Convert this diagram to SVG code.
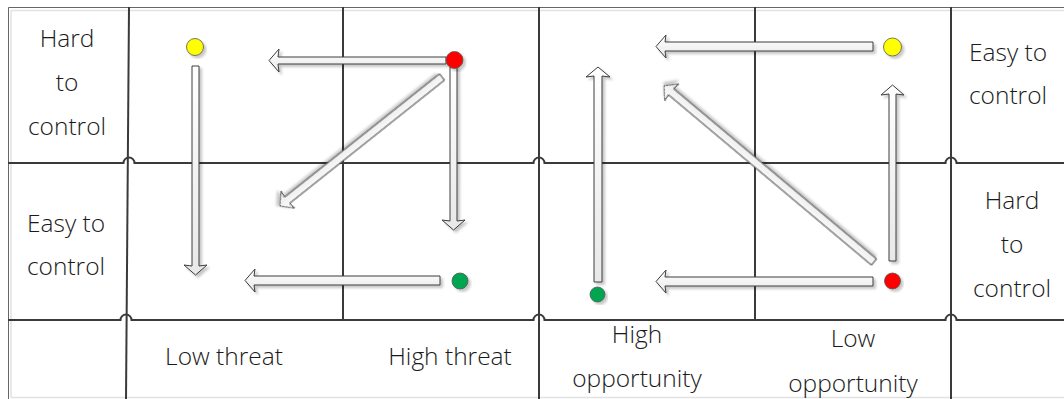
<svg xmlns="http://www.w3.org/2000/svg" width="1064" height="399" viewBox="0 0 1064 399">
  <defs>
    <filter id="shadow" x="-20%" y="-20%" width="140%" height="140%">
      <feDropShadow dx="2.5" dy="2.5" stdDeviation="1.2" flood-color="#000" flood-opacity="0.22"/>
    </filter>
    <linearGradient id="arrowFill" x1="0" y1="0" x2="0" y2="1">
      <stop offset="0" stop-color="#ffffff"/>
      <stop offset="1" stop-color="#e8e8e8"/>
    </linearGradient>
  </defs>
  <style>
    .grid { stroke: #3a3a3a; stroke-width: 2; fill: none; }
    .frame { stroke: #666; stroke-width: 1; fill: none; }
    .frame-in { stroke: #e2e2e2; stroke-width: 1.5; fill: none; }
    .arrow { fill: url(#arrowFill); stroke: #3c3c3c; stroke-width: 1; stroke-linejoin: miter; filter: url(#shadow); }
    .dot { stroke: #555; stroke-width: 0.8; filter: url(#shadow); }
    .label { font-family: "Open Sans", "Liberation Sans", sans-serif; font-size: 24.5px; font-weight: 300; fill: #1a1a1a; text-anchor: middle; }
  </style>

  <rect width="1064" height="399" fill="#ffffff"/>

  <!-- outer frame -->
  <g id="frame">
    <path class="frame-in" d="M11,10.5 H1064 M11,10.5 V397.5 M11,397.5 H1064"/>
    <path class="frame" d="M8.5,7.5 H1064 M8.5,7.5 V399"/>
  </g>

  <!-- grid lines with jump-overs at crossings -->
  <g id="grid">
    <path class="grid" d="M8,163 H123.5 A5.5,5.5 0 0 1 134.5,163 H533.5 A5.5,5.5 0 0 1 544.5,163 H945.5 A5.5,5.5 0 0 1 956.5,163 H1064"/>
    <path class="grid" d="M8,320 H120.5 A5.5,5.5 0 0 1 131.5,320 H533.5 A5.5,5.5 0 0 1 544.5,320 H945.5 A5.5,5.5 0 0 1 956.5,320 H1064"/>
    <path class="grid" d="M129,7 L126,399"/>
    <path class="grid" d="M343,7 V320"/>
    <path class="grid" d="M539,7 V399"/>
    <path class="grid" d="M755,7 V320"/>
    <path class="grid" d="M951,7 V399"/>
  </g>

  <!-- block arrows -->
  <g id="connectors">
    <!-- yellow (top left) down -->
    <polygon class="arrow" points="192,66 199,66 199,266 207,265 195.5,275 184,265 192,266"/>
    <!-- red (top) left -->
    <polygon class="arrow" points="446,57 446,64 278,64 279,72 269,60.5 279,49 278,57"/>
    <!-- red (top) diagonal down-left -->
    <polygon class="arrow" transform="translate(442,77) rotate(141.5)" points="0,-4 198,-4 197,-11 207,0 197,11 198,4 0,4"/>
    <!-- red (top) down -->
    <polygon class="arrow" points="450,67 457,67 457,221 465,220 453.5,230 442,220 450,221"/>
    <!-- green (bottom left) left -->
    <polygon class="arrow" points="440,276 440,285 254,285 255,292 245,280.5 255,269 254,276"/>
    <!-- green (bottom right) up -->
    <polygon class="arrow" points="594,282 602,282 602,76 610,77 598,67 586,77 594,76"/>
    <!-- yellow (right) left -->
    <polygon class="arrow" points="873,42 873,51 665,51 666,58 656,46.5 666,35 665,42"/>
    <!-- red (right) diagonal up-left -->
    <polygon class="arrow" transform="translate(874,262) rotate(-140)" points="0,-4 265,-4 264,-11 274,0 264,11 265,4 0,4"/>
    <!-- red (right) up -->
    <polygon class="arrow" points="889,261 896,261 896,94 904,95 892.5,85 881,95 889,94"/>
    <!-- red (right) left -->
    <polygon class="arrow" points="873,277 873,286 665,286 666,293 656,281.5 666,270 665,277"/>
  </g>

  <!-- status dots -->
  <g id="dot-yellow-left"><circle class="dot" cx="195" cy="47" r="8.5" fill="#ffff00"/></g>
  <g id="dot-red-left"><circle class="dot" cx="454.5" cy="60" r="8.5" fill="#ff0000"/></g>
  <g id="dot-green-left"><circle class="dot" cx="460" cy="281" r="8" fill="#00a54f"/></g>
  <g id="dot-green-right"><circle class="dot" cx="597.5" cy="294.5" r="7.5" fill="#00a54f"/></g>
  <g id="dot-yellow-right"><circle class="dot" cx="892.5" cy="47" r="9" fill="#ffff00"/></g>
  <g id="dot-red-right"><circle class="dot" cx="892.5" cy="281" r="8" fill="#ff0000"/></g>

  <!-- labels -->
  <g id="label-hard-left">
    <text class="label" x="67" y="47">Hard</text>
    <text class="label" x="67" y="91">to</text>
    <text class="label" x="67" y="135">control</text>
  </g>
  <g id="label-easy-left">
    <text class="label" x="66" y="232">Easy to</text>
    <text class="label" x="66" y="275">control</text>
  </g>
  <g id="label-low-threat"><text class="label" x="224" y="365">Low threat</text></g>
  <g id="label-high-threat"><text class="label" x="450" y="365">High threat</text></g>
  <g id="label-high-opportunity">
    <text class="label" x="637" y="343">High</text>
    <text class="label" x="637" y="387">opportunity</text>
  </g>
  <g id="label-low-opportunity">
    <text class="label" x="853" y="347">Low</text>
    <text class="label" x="853" y="392">opportunity</text>
  </g>
  <g id="label-easy-right">
    <text class="label" x="1008" y="61">Easy to</text>
    <text class="label" x="1008" y="104">control</text>
  </g>
  <g id="label-hard-right">
    <text class="label" x="1012" y="209">Hard</text>
    <text class="label" x="1012" y="253">to</text>
    <text class="label" x="1012" y="297">control</text>
  </g>
</svg>
